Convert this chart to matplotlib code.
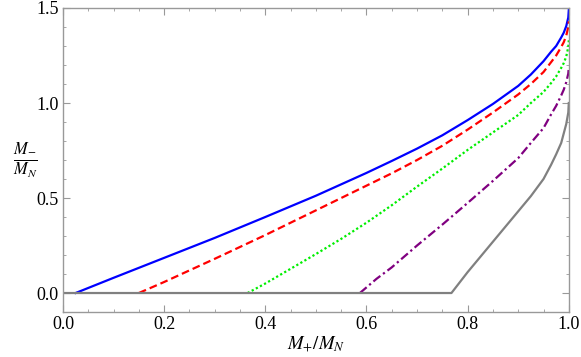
import numpy as np
from matplotlib import pyplot as plt
from matplotlib.ticker import MultipleLocator

plt.rcParams['font.family'] = ['Liberation Serif', 'DejaVu Serif']
plt.rcParams['mathtext.fontset'] = 'stix'

# curves (x = M+/MN, y = M-/MN)
blue_x = [0.025, 0.1, 0.2, 0.3, 0.4, 0.5, 0.6, 0.65, 0.7, 0.75, 0.8, 0.85, 0.9, 0.925,
          0.95, 0.965, 0.975, 0.985, 0.99, 0.995, 0.999, 1.0]
blue_y = [0.0, 0.08, 0.185, 0.29, 0.40, 0.512, 0.632, 0.695, 0.76, 0.83, 0.91, 0.995, 1.09, 1.15,
          1.22, 1.27, 1.30, 1.345, 1.37, 1.405, 1.45, 1.49]

red_x = [0.15, 0.2, 0.3, 0.4, 0.5, 0.6, 0.65, 0.7, 0.75, 0.8, 0.85, 0.9, 0.925,
         0.95, 0.965, 0.975, 0.985, 0.99, 0.995, 0.999, 1.0]
red_y = [0.0, 0.058, 0.18, 0.305, 0.435, 0.565, 0.63, 0.70, 0.775, 0.86, 0.95, 1.045, 1.10,
         1.163, 1.215, 1.25, 1.295, 1.32, 1.355, 1.40, 1.43]

green_x = [0.365, 0.4, 0.5, 0.55, 0.6, 0.65, 0.7, 0.75, 0.8, 0.85, 0.9, 0.925,
           0.95, 0.965, 0.975, 0.985, 0.99, 0.995, 0.999, 1.0]
green_y = [0.0, 0.05, 0.205, 0.285, 0.37, 0.462, 0.56, 0.655, 0.753, 0.845, 0.937, 1.0,
           1.058, 1.105, 1.14, 1.185, 1.21, 1.245, 1.295, 1.33]

purple_x = [0.587, 0.62, 0.65, 0.7, 0.75, 0.8, 0.85, 0.9, 0.925,
            0.95, 0.965, 0.975, 0.985, 0.99, 0.995, 0.999, 1.0]
purple_y = [0.0, 0.075, 0.135, 0.25, 0.36, 0.474, 0.59, 0.71, 0.79,
            0.868, 0.94, 0.985, 1.04, 1.07, 1.11, 1.155, 1.19]

gray_x = [0.0, 0.768, 0.8, 0.825, 0.85, 0.875, 0.9, 0.925, 0.95, 0.965, 0.975,
          0.985, 0.99, 0.995, 0.999, 1.0]
gray_y = [0.0, 0.0, 0.11, 0.19, 0.27, 0.35, 0.43, 0.51, 0.60, 0.675, 0.73,
          0.79, 0.84, 0.89, 0.95, 1.0]

fig = plt.figure(figsize=(5.81, 3.57), dpi=100)
ax = fig.add_axes([0.1084, 0.126, 0.8706, 0.8516])

lw = 1.6
ax.plot(blue_x, blue_y, color='#0000ff', lw=lw, ls='-')
ax.plot(red_x, red_y, color='#ff0000', lw=lw, ls=(0, (3.5, 1.8)))
ax.plot(green_x, green_y, color='#00ee00', lw=lw, ls=(0, (1, 1.1)))
ax.plot(purple_x, purple_y, color='#800080', lw=lw, ls=(0, (4, 1.5, 1, 1.5)))
ax.plot(gray_x, gray_y, color='#808080', lw=lw, ls='-')

ax.set_xlim(0, 1)
ax.set_ylim(-0.1, 1.5)
ax.xaxis.set_major_locator(MultipleLocator(0.2))
ax.xaxis.set_minor_locator(MultipleLocator(0.05))
ax.yaxis.set_major_locator(MultipleLocator(0.5))
ax.yaxis.set_minor_locator(MultipleLocator(0.1))
ax.xaxis.set_major_formatter(lambda v, p: '%.1f' % v)
ax.yaxis.set_major_formatter(lambda v, p: '%.1f' % v)

for s in ax.spines.values():
    s.set_color('#999999')
    s.set_linewidth(1.0)
ax.tick_params(which='both', direction='in', top=True, right=True,
               color='#999999', labelsize=13, pad=3)
ax.tick_params(which='major', length=5)
ax.tick_params(which='minor', length=2.5)

ax.set_xlabel(r'$M_{+}/M_{N}$', fontsize=13.5, labelpad=1)
ax.set_ylabel(r'$\frac{M_{-}}{M_{N}}$', fontsize=17, rotation=0, labelpad=8, va='center')

fig.savefig('out.png', dpi=100)
